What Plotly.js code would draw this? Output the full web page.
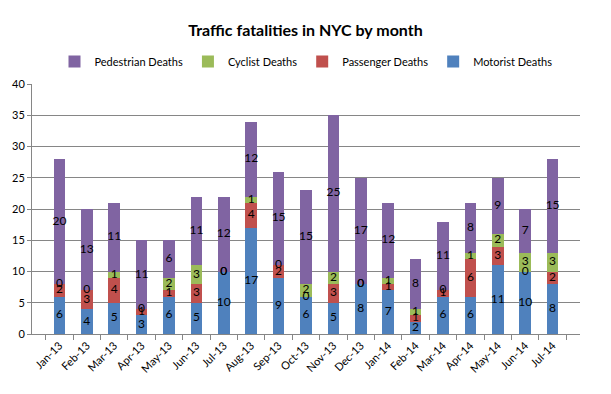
<!DOCTYPE html>
<html><head><meta charset="utf-8">
<script src="https://cdn.plot.ly/plotly-3.0.1.min.js"></script>
<style>html,body{margin:0;padding:0;background:#fff}#c{width:611px;height:394px}</style>
</head><body><div id="c"></div>
<script>
const months = ["Jan-13","Feb-13","Mar-13","Apr-13","May-13","Jun-13","Jul-13","Aug-13","Sep-13","Oct-13","Nov-13","Dec-13","Jan-14","Feb-14","Mar-14","Apr-14","May-14","Jun-14","Jul-14"];
const motorist   = [6,4,5,3,6,5,10,17,9,6,5,8,7,2,6,6,11,10,8];
const passenger  = [2,3,4,1,1,3,0,4,2,0,3,0,1,1,1,6,3,0,2];
const cyclist    = [0,0,1,0,2,3,0,1,0,2,2,0,1,1,0,1,2,3,3];
const pedestrian = [20,13,11,11,6,11,12,12,15,15,25,17,12,8,11,8,9,7,15];
const seriesNames = ["Motorist Deaths","Passenger Deaths","Cyclist Deaths","Pedestrian Deaths"];
const seriesColors = ["#4F81BD","#C0504D","#9BBB59","#8064A2"];

const series = [motorist, passenger, cyclist, pedestrian];
const traces = [];
const base = months.map(() => 0);
const labelTraces = [];
series.forEach((vals, i) => {
  traces.push({
    type: "bar", x: months, y: vals, name: seriesNames[i],
    marker: {color: seriesColors[i], line: {width: 0}},
    hoverinfo: "skip"
  });
  labelTraces.push({
    type: "scatter", mode: "text", x: months,
    y: vals.map((v, j) => base[j] + v / 2),
    text: vals.map(String), textposition: "middle center",
    textfont: {family: "Lato, sans-serif", size: 12, color: "#000"},
    showlegend: false, hoverinfo: "skip", cliponaxis: false
  });
  vals.forEach((v, j) => base[j] += v);
});

const layout = {
  width: 611, height: 394,
  paper_bgcolor: "#fff", plot_bgcolor: "#fff",
  margin: {l: 32, r: 31, t: 84, b: 60},
  barmode: "stack", bargap: 0.58,
  font: {family: "Lato, sans-serif", size: 11, color: "#000"},
  title: {text: "<b>Traffic fatalities in NYC by month</b>", font: {size: 16, color: "#000"},
          x: 0.5, xanchor: "center", y: 0.922, yanchor: "middle"},
  showlegend: true,
  legend: {orientation: "h", x: 0.5, xanchor: "center", y: 1.09, yanchor: "middle",
           traceorder: "reversed", font: {size: 11, color: "#000"},
           itemwidth: 30},
  xaxis: {type: "category", tickangle: -45, showgrid: false, showline: true,
          linecolor: "#868686", linewidth: 1, ticks: "outside", tickson: "boundaries",
          ticklen: 5, tickcolor: "#868686", tickfont: {size: 11}},
  yaxis: {range: [0, 40], dtick: 5, showgrid: true, gridcolor: "#868686", gridwidth: 1,
          showline: true, linecolor: "#868686", ticks: "outside", ticklen: 4,
          tickcolor: "#868686", zeroline: false, tickfont: {size: 11}, fixedrange: true}
};
Plotly.newPlot("c", traces.concat(labelTraces), layout, {staticPlot: true});
</script></body></html>
